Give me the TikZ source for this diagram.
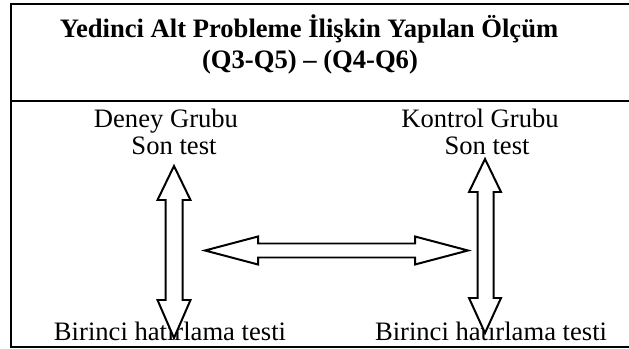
\documentclass[tikz,border=0pt]{standalone}
\usepackage{fontspec}
\setmainfont{Liberation Serif}

\begin{document}
\begin{tikzpicture}[
    x=0.451pt, y=-0.451pt,
    txt/.style={anchor=base, inner sep=0pt, font=\fontsize{12}{14}\selectfont},
    ttl/.style={txt, font=\fontsize{12}{14}\selectfont\bfseries},
    frame/.style={line width=0.9pt},
    blockarr/.style={draw, line width=0.9pt, fill=white, line join=miter}
  ]
  \useasboundingbox (0,0) rectangle (629,349);

  % table frame (open on the right)
  \draw[frame] (629,4.5) -- (11,4.5) -- (11,347) -- (629,347);
  \draw[frame] (11,101) -- (629,101);

  % heading
  \node[ttl] (head1) at (309,38) {Yedinci Alt Probleme İlişkin Yapılan Ölçüm};
  \node[ttl] (head2) at (310,69) {(Q3-Q5) -- (Q4-Q6)};

  % experimental group
  \node[txt] (deney) at (166,128) {Deney Grubu};
  \node[txt] (dson)  at (174,155) {Son test};
  \node[txt] (dbir)  at (170,340) {Birinci hatırlama testi};

  % control group
  \node[txt] (kontrol) at (480,128) {Kontrol Grubu};
  \node[txt] (kson)    at (487,155) {Son test};
  \node[txt] (kbir)    at (491,340) {Birinci hatırlama testi};

  % block arrows
  \coordinate (dtop) at (174,166);
  \coordinate (ktop) at (485,159);
  \coordinate (mid)  at (205,250.5);

  \draw[blockarr] (dtop) -- ++(16.5,34) -- ++(-8,0) -- ++(0,100) -- ++(8,0)
    -- ++(-16.5,38) -- ++(-16.5,-38) -- ++(8,0) -- ++(0,-100) -- ++(-8,0) -- cycle;
  \draw[blockarr] (ktop) -- ++(16,33) -- ++(-7.5,0) -- ++(0,106) -- ++(7.5,0)
    -- ++(-16,35) -- ++(-16,-35) -- ++(8.5,0) -- ++(0,-106) -- ++(-8.5,0) -- cycle;
  \draw[blockarr] (mid) -- ++(53,-14) -- ++(0,7) -- ++(157,0) -- ++(0,-7)
    -- ++(53,14) -- ++(-53,14) -- ++(0,-7) -- ++(-157,0) -- ++(0,7) -- cycle;
\end{tikzpicture}
\end{document}
